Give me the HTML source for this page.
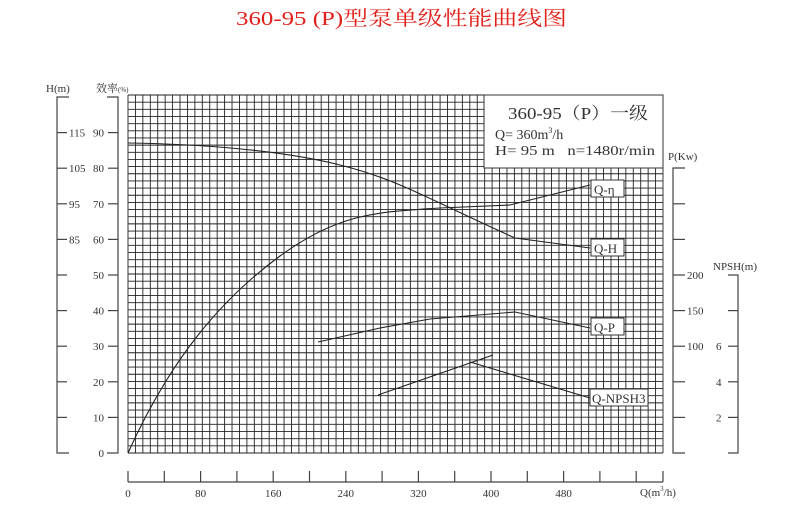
<!DOCTYPE html>
<html><head><meta charset="utf-8"><style>
body{margin:0;background:#fff;width:800px;height:522px;overflow:hidden}
svg text{font-family:"Liberation Serif","Noto Serif CJK SC",serif;fill:#333}
</style></head><body>
<svg width="800" height="522" xmlns="http://www.w3.org/2000/svg">
<text x="236" y="25" font-size="20" textLength="331" lengthAdjust="spacingAndGlyphs" style="fill:#e0201a">360-95 (P)型泵单级性能曲线图</text>
<g id="grid" stroke="#222" stroke-width="0.9" fill="none"></g>
<rect x="484" y="95" width="179" height="73" fill="#fff" stroke="#333"/>
<text x="508" y="119" font-size="17" textLength="140" lengthAdjust="spacingAndGlyphs">360-95（P）一级</text>
<text x="495" y="139" font-size="14">Q= 360m<tspan font-size="8" dy="-6">3</tspan><tspan dy="6">/h</tspan></text>
<text x="495" y="155" font-size="14" textLength="160" lengthAdjust="spacingAndGlyphs">H= 95 m &#160; n=1480r/min</text>
<g stroke="#222" stroke-width="1.1" fill="none">
<path d="M128,143 C200,144 280,150 340,165 S430,200 515,238 L590,248"/>
<path d="M128,453 C170,360 220,300 280,256 S380,212 440,208 L510,205 L590,185"/>
<path d="M318,342 L380,328 L430,319 L515,312 L590,328"/>
<path d="M378,395 L493,355"/>
<path d="M470,362 L590,398"/>
</g>
<g font-size="12" stroke="#333">
<rect x="591" y="180" width="33" height="17" fill="#fff"/>
<rect x="591" y="239" width="33" height="17" fill="#fff"/>
<rect x="591" y="318" width="33" height="17" fill="#fff"/>
<rect x="590" y="389" width="58" height="17" fill="#fff"/>
</g>
<g font-size="13">
<text x="594" y="194">Q-η</text>
<text x="594" y="253">Q-H</text>
<text x="594" y="332">Q-P</text>
<text x="592" y="403">Q-NPSH3</text>
</g>
<g id="axes" stroke="#444" stroke-width="1.2" fill="none"></g>
<g font-size="11">
<text x="46" y="92">H(m)</text>
<text x="96" y="92">效率<tspan font-size="7">(%)</tspan></text>
<text x="668" y="160">P(Kw)</text>
<text x="713" y="270">NPSH(m)</text>
<text x="640" y="496">Q(m<tspan font-size="7" dy="-5">3</tspan><tspan dy="5">/h)</tspan></text>
</g>
<g id="labels" font-size="11"></g>
</svg>
<script>
var ns="http://www.w3.org/2000/svg";
function el(p,t,a,txt){var e=document.createElementNS(ns,t);for(var k in a)e.setAttribute(k,a[k]);if(txt!=null)e.textContent=txt;document.getElementById(p).appendChild(e);}
var x0=128,x1=663,y0=95,y1=453;
var nc=72,nr=50;
for(var i=0;i<=nc;i++){var x=x0+(x1-x0)*i/nc;el("grid","line",{x1:x,y1:y0,x2:x,y2:y1});}
for(var j=0;j<=nr;j++){var y=y0+(y1-y0)*j/nr;el("grid","line",{x1:x0,y1:y,x2:x1,y2:y});}
el("axes","path",{d:"M69,97 H57 V453 H69"});
el("axes","path",{d:"M107,97 H118 V453 H107"});
var st=35.6;
for(var k=1;k<=9;k++){var y=453-k*st;el("axes","line",{x1:57,y1:y,x2:67,y2:y});el("axes","line",{x1:108,y1:y,x2:118,y2:y});}
var effL=["0","10","20","30","40","50","60","70","80","90"];
for(var k=0;k<=9;k++){el("labels","text",{x:104,y:453-k*st+4,"text-anchor":"end"},effL[k]);}
var hL={9:"115",8:"105",7:"95",6:"85"};
for(var k in hL){el("labels","text",{x:69,y:453-k*st+4},hL[k]);}
el("axes","path",{d:"M685,168 H673 V453 H685"});
for(var k=1;k<8;k++){var y=453-k*st;el("axes","line",{x1:673,y1:y,x2:685,y2:y});}
var pL={5:"200",4:"150",3:"100"};
for(var k in pL){el("labels","text",{x:687,y:453-k*st+4},pL[k]);}
el("axes","path",{d:"M728,275 H738 V453 H728"});
for(var k=1;k<5;k++){var y=453-k*st;el("axes","line",{x1:728,y1:y,x2:738,y2:y});}
var nL={3:"6",2:"4",1:"2"};
for(var k in nL){el("labels","text",{x:716,y:453-k*st+4},nL[k]);}
el("axes","line",{x1:128,y1:482,x2:663,y2:482});
for(var k=0;k<=14;k++){var x=128+k*36.3;if(x>664)x=663;el("axes","line",{x1:x,y1:471,x2:x,y2:482});}
el("axes","line",{x1:663,y1:471,x2:663,y2:482});
var q=[0,80,160,240,320,400,480];
for(var k=0;k<q.length;k++){el("labels","text",{x:128+q[k]*0.9075,y:497,"text-anchor":"middle"},q[k]);}
</script>
</body></html>
